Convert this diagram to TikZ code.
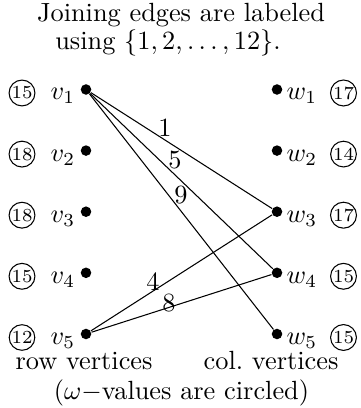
\documentclass[tikz,border=0pt]{standalone}
\begin{document}
\begin{tikzpicture}[x=0.38pt,y=-0.38pt,
  vertex/.style={circle,fill=black,inner sep=0pt,minimum size=4pt},
  vlabel/.style={inner sep=0pt,anchor=base west},
  omega/.style={circle,draw,line width=0.4pt,inner sep=0.2pt,font=\scriptsize},
  elabel/.style={inner sep=0pt},
  caption/.style={inner sep=0pt,anchor=base},
  edge/.style={line width=0.4pt}]
\useasboundingbox (0,0) rectangle (360,408);

% heading
\node[caption] (t1) at (181,22) {Joining edges are labeled};
\node[caption] (t2) at (168,50) {using $\{1,2,\ldots,12\}$.};

% row and column vertices with their circled omega-values
\foreach \i/\y/\a/\b in {1/89.5/15/17, 2/150.6/18/14, 3/211.7/18/17, 4/272.8/15/15, 5/334/12/15} {
  \node[vertex] (v\i) at (86,\y) {};
  \node[vertex] (w\i) at (277,\y) {};
  \node[vlabel] (vl\i) at (50,\y+10.5) {$v_{\i}$};
  \node[vlabel] (wl\i) at (286,\y+10.5) {$w_{\i}$};
  \node[omega] (va\i) at (22,\y+3.5) {\a};
  \node[omega] (wb\i) at (343.5,\y+3.5) {\b};
}

% joining edges
\draw[edge] (v1) -- (w3);
\draw[edge] (v1) -- (w4);
\draw[edge] (v1) -- (w5);
\draw[edge] (v5) -- (w3);
\draw[edge] (v5) -- (w4);

% edge labels
\node[elabel] (e1) at (165,128) {1};
\node[elabel] (e5) at (175,160) {5};
\node[elabel] (e9) at (181,195) {9};
\node[elabel] (e4) at (153,282) {4};
\node[elabel] (e8) at (169,303) {8};

% footer
\node[caption] (rv) at (84,369) {row vertices};
\node[caption] (cv) at (271,369) {col.\ vertices};
\node[caption] (fn) at (181.5,399) {($\omega-$values are circled)};
\end{tikzpicture}
\end{document}
